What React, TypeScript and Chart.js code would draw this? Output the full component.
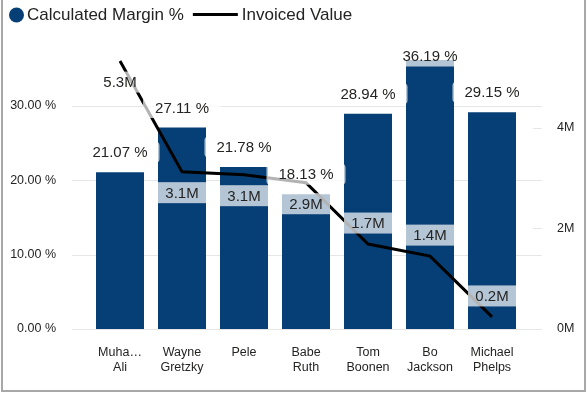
import React, { useEffect, useRef } from "react";
import { Chart, registerables } from "chart.js";

Chart.register(...registerables);

const categories = ["Muhammad Ali", "Wayne Gretzky", "Pele", "Babe Ruth", "Tom Boonen", "Bo Jackson", "Michael Phelps"];
const tickLabels = [["Muha…", "Ali"], ["Wayne", "Gretzky"], ["Pele"], ["Babe", "Ruth"], ["Tom", "Boonen"], ["Bo", "Jackson"], ["Michael", "Phelps"]];
const marginPct = [21.07, 27.11, 21.78, 18.13, 28.94, 36.19, 29.15];
const invoicedValue = [5330000, 3130000, 3070000, 2910000, 1690000, 1450000, 240000];
const leftTicks = [0, 10, 20, 30];
const rightTicks = [0, 2000000, 4000000];
const lineLabelSide = ["below", "below", "below", "below", "above", "above", "above"];

const NAVY = "#063F76";
const FONT = "'Liberation Sans', Arial, sans-serif";
const TEXT = "#252423";

function roundRect(ctx: CanvasRenderingContext2D, x: number, y: number, w: number, h: number, r: number) {
  ctx.beginPath();
  ctx.moveTo(x + r, y);
  ctx.lineTo(x + w - r, y);
  ctx.quadraticCurveTo(x + w, y, x + w, y + r);
  ctx.lineTo(x + w, y + h - r);
  ctx.quadraticCurveTo(x + w, y + h, x + w - r, y + h);
  ctx.lineTo(x + r, y + h);
  ctx.quadraticCurveTo(x, y + h, x, y + h - r);
  ctx.lineTo(x, y + r);
  ctx.quadraticCurveTo(x, y, x + r, y);
  ctx.closePath();
}

export default function App() {
  const ref = useRef<HTMLCanvasElement>(null);

  useEffect(() => {
    document.body.style.margin = "0";
    const canvas = ref.current!;

    const gridPlugin = {
      id: "customGrid",
      beforeDatasetsDraw(chart: any) {
        const ctx = chart.ctx;
        const { left, right } = chart.chartArea;
        const y = chart.scales.y;
        const y1 = chart.scales.y1;
        ctx.save();
        ctx.strokeStyle = "#e6e6e6";
        ctx.lineWidth = 1;
        leftTicks.forEach((v) => {
          const py = Math.round(y.getPixelForValue(v)) + 0.5;
          ctx.beginPath();
          ctx.moveTo(left - 17, py);
          ctx.lineTo(right + 19, py);
          ctx.stroke();
        });
        rightTicks.forEach((v) => {
          const py = Math.round(y1.getPixelForValue(v)) + 0.5;
          ctx.beginPath();
          ctx.moveTo(right + 10, py);
          ctx.lineTo(right + 19, py);
          ctx.stroke();
        });
        ctx.restore();
      },
    };

    const labelPlugin = {
      id: "customLabels",
      afterDatasetsDraw(chart: any) {
        const ctx = chart.ctx;
        const bars = chart.getDatasetMeta(0).data;
        const pts = chart.getDatasetMeta(1).data;
        ctx.save();
        ctx.font = `15px ${FONT}`;
        ctx.textAlign = "center";
        ctx.textBaseline = "middle";
        const h = 21;
        pts.forEach((p: any, i: number) => {
          const text = (invoicedValue[i] / 1e6).toFixed(1) + "M";
          const cy = lineLabelSide[i] === "below" ? p.y + 21 : p.y - 21;
          const w = bars[i].width;
          ctx.fillStyle = "rgba(255,255,255,0.7)";
          ctx.fillRect(p.x - w / 2, cy - h / 2, w, h);
          ctx.fillStyle = TEXT;
          ctx.fillText(text, p.x, cy + 1);
        });
        bars.forEach((b: any, i: number) => {
          const text = marginPct[i].toFixed(2) + " %";
          const w = ctx.measureText(text).width + 24;
          const cy = Math.max(b.y - 20, chart.chartArea.top + 11);
          ctx.fillStyle = "rgba(255,255,255,0.7)";
          roundRect(ctx, b.x - w / 2, cy - h / 2, w, h, 4);
          ctx.fill();
          ctx.fillStyle = TEXT;
          ctx.fillText(text, b.x, cy + 1);
        });
        ctx.restore();
      },
    };

    const framePlugin = {
      id: "frameLegend",
      afterDraw(chart: any) {
        const ctx = chart.ctx;
        const ds = chart.data.datasets;
        ctx.save();
        ctx.font = `17px ${FONT}`;
        ctx.textBaseline = "middle";
        ctx.textAlign = "left";
        ctx.fillStyle = ds[0].backgroundColor;
        ctx.beginPath();
        ctx.arc(16.5, 15, 7.5, 0, Math.PI * 2);
        ctx.fill();
        ctx.fillStyle = TEXT;
        ctx.fillText(ds[0].label, 27, 15);
        const w0 = ctx.measureText(ds[0].label).width;
        const lx = 27 + w0 + 9;
        ctx.strokeStyle = ds[1].borderColor;
        ctx.lineWidth = 3;
        ctx.beginPath();
        ctx.moveTo(lx, 14.5);
        ctx.lineTo(lx + 45, 14.5);
        ctx.stroke();
        ctx.fillText(ds[1].label, lx + 49, 15);
        ctx.fillStyle = "#a8a8a8";
        ctx.fillRect(1, 0, 2, 392);
        ctx.fillRect(584, 0, 2, 392);
        ctx.fillRect(1, 390, 585, 2);
        ctx.restore();
      },
    };

    const tickFont = { family: FONT, size: 12.5, lineHeight: 1.2 };

    const chart = new Chart(canvas, {
      type: "bar",
      data: {
        labels: tickLabels as any,
        datasets: [
          {
            type: "bar",
            label: "Calculated Margin %",
            data: marginPct,
            backgroundColor: NAVY,
            yAxisID: "y",
            barPercentage: 48 / 62,
            categoryPercentage: 1,
            order: 2,
          } as any,
          {
            type: "line",
            label: "Invoiced Value",
            data: invoicedValue,
            borderColor: "#000000",
            borderWidth: 3,
            pointRadius: 0,
            tension: 0,
            yAxisID: "y1",
            order: 1,
          } as any,
        ],
      },
      options: {
        responsive: false,
        animation: false,
        layout: { padding: { top: 45, left: 0, right: 0, bottom: 0 } },
        plugins: { legend: { display: false }, tooltip: { enabled: false } },
        scales: {
          x: {
            grid: { display: false, drawTicks: false },
            border: { display: false },
            ticks: { color: TEXT, font: tickFont, padding: 16, maxRotation: 0, autoSkip: false },
            afterFit: (s: any) => {
              s.height = 65;
            },
          },
          y: {
            position: "left",
            min: 0,
            max: 38.2,
            grid: { display: false, drawTicks: false },
            border: { display: false },
            ticks: {
              color: TEXT,
              font: tickFont,
              padding: 33,
              callback: (v: any) => Number(v).toFixed(2) + " %",
            },
            afterBuildTicks: (s: any) => {
              s.ticks = leftTicks.map((v) => ({ value: v }));
            },
            afterFit: (s: any) => {
              s.width = 89;
            },
          },
          y1: {
            position: "right",
            min: 0,
            max: 5650000,
            grid: { display: false, drawTicks: false },
            border: { display: false },
            ticks: {
              color: TEXT,
              font: tickFont,
              padding: 34,
              callback: (v: any) => Number(v) / 1e6 + "M",
            },
            afterBuildTicks: (s: any) => {
              s.ticks = rightTicks.map((v) => ({ value: v }));
            },
            afterFit: (s: any) => {
              s.width = 65;
            },
          },
        },
      } as any,
      plugins: [gridPlugin, labelPlugin, framePlugin],
    });

    return () => chart.destroy();
  }, []);

  return (
    <canvas
      ref={ref}
      width={588}
      height={394}
      aria-label={categories.join(", ")}
      style={{ display: "block", width: 588, height: 394 }}
    />
  );
}
